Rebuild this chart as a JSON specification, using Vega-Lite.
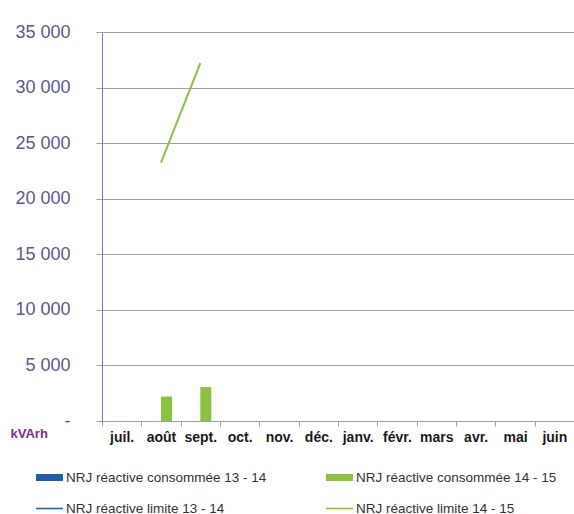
{
  "$schema": "https://vega.github.io/schema/vega-lite/v6.json",
  "width": 472,
  "height": 389,
  "autosize": {"type": "none"},
  "padding": {"left": 102, "top": 32, "right": 0, "bottom": 93},
  "background": "white",
  "config": {"view": {"stroke": null}, "font": "Liberation Sans"},
  "data": {
    "values": [
      {"mois": "août", "serie": "NRJ réactive consommée 14 - 15", "valeur": 2200},
      {"mois": "sept.", "serie": "NRJ réactive consommée 14 - 15", "valeur": 3050},
      {"mois": "août", "serie": "NRJ réactive limite 14 - 15", "valeur": 23250},
      {"mois": "sept.", "serie": "NRJ réactive limite 14 - 15", "valeur": 32200}
    ]
  },
  "encoding": {
    "x": {
      "field": "mois",
      "type": "nominal",
      "scale": {
        "domain": ["juil.", "août", "sept.", "oct.", "nov.", "déc.", "janv.", "févr.", "mars", "avr.", "mai", "juin"],
        "paddingInner": 0,
        "paddingOuter": 0
      },
      "axis": {
        "title": null,
        "tickBand": "extent",
        "labelAngle": 0,
        "labelFontSize": 14,
        "labelFontWeight": "bold",
        "labelColor": "#1a1a1a",
        "tickSize": 5,
        "tickColor": "#a0a0a0",
        "domainColor": "#a0a0a0",
        "labelPadding": 4,
        "grid": false
      }
    },
    "y": {
      "field": "valeur",
      "type": "quantitative",
      "scale": {"domain": [0, 35000], "nice": false},
      "axis": {
        "values": [0, 5000, 10000, 15000, 20000, 25000, 30000, 35000],
        "labelExpr": "datum.value == 0 ? '-' : replace(format(datum.value, ','), ',', ' ')",
        "labelFontSize": 18,
        "labelColor": "#5a5a8c",
        "labelPadding": 26,
        "tickSize": 6,
        "tickColor": "#a0a0a0",
        "domainColor": "#8c72b8",
        "grid": true,
        "gridColor": "#a0a0a0",
        "title": "kVArh",
        "titleAngle": 0,
        "titleX": -92,
        "titleY": 401,
        "titleAlign": "left",
        "titleBaseline": "middle",
        "titleFontSize": 13,
        "titleFontWeight": "bold",
        "titleColor": "#7b2d8e"
      }
    },
    "color": {
      "field": "serie",
      "type": "nominal",
      "scale": {
        "domain": ["NRJ réactive consommée 13 - 14", "NRJ réactive consommée 14 - 15", "NRJ réactive limite 13 - 14", "NRJ réactive limite 14 - 15"],
        "range": ["#1f5fa6", "#8cc23f", "#2466b0", "#8cc23f"]
      },
      "legend": {
        "title": null,
        "orient": "none",
        "direction": "horizontal",
        "legendX": -66,
        "legendY": 432,
        "columns": 2,
        "padding": 0,
        "labelFontSize": 13.5,
        "labelColor": "#333333",
        "labelLimit": 400,
        "symbolSize": 729,
        "labelOffset": 3,
        "columnPadding": 59,
        "rowPadding": 11,
        "symbolOpacity": 1,
        "encode": {
          "symbols": {
            "update": {
              "shape": {"signal": "indexof(datum.value, 'limite') >= 0 ? 'M-1,-0.06H1V0.06H-1Z' : 'M-1,-0.26H1V0.26H-1Z'"},
              "fill": {"signal": "scale('color', datum.value)"},
              "strokeWidth": {"value": 0},
              "opacity": {"value": 1}
            }
          }
        }
      }
    }
  },
  "layer": [
    {
      "transform": [{"filter": "indexof(datum.serie, 'consomm') >= 0"}],
      "mark": {"type": "bar"},
      "encoding": {
        "xOffset": {
          "field": "serie",
          "scale": {
            "domain": ["NRJ réactive consommée 13 - 14", "NRJ réactive consommée 14 - 15"],
            "paddingInner": 0,
            "paddingOuter": 0.79
          }
        }
      }
    },
    {
      "transform": [{"filter": "indexof(datum.serie, 'limite') >= 0"}],
      "mark": {"type": "line", "strokeWidth": 2}
    }
  ]
}
